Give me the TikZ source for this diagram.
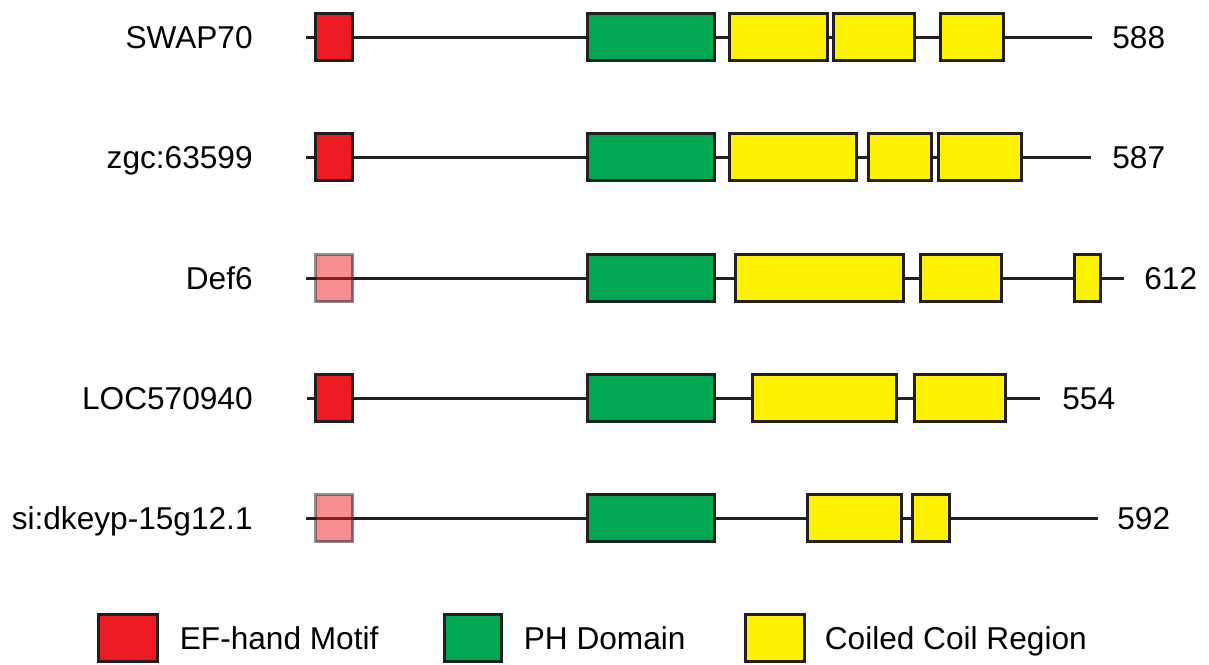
\documentclass[tikz,border=0pt]{standalone}
\usepackage{fontspec}
\setmainfont{Liberation Sans}
\usetikzlibrary{positioning}

\definecolor{efred}{HTML}{ED1C24}
\definecolor{phgreen}{HTML}{00A651}
\definecolor{ccyellow}{HTML}{FFF200}
\definecolor{outline}{HTML}{231F20}

\tikzset{
  dombox/.style={rectangle, draw=outline, line width=1.7pt, minimum height=0.94cm,
    inner sep=0pt, outer sep=0pt},
  efbox/.style={dombox, fill=efred},
  efweak/.style={dombox, fill=efred, opacity=0.5},
  phbox/.style={dombox, fill=phgreen},
  ccbox/.style={dombox, fill=ccyellow},
  backbone/.style={draw=outline, line width=1.7pt},
  lbl/.style={inner sep=0pt, font=\fontsize{18}{20}\selectfont,
    text height=0.44cm, text depth=0pt}
}

\begin{document}
\begin{tikzpicture}[x=0.02cm, y=-0.02cm]
    % box from left edge to right edge (pixels) on a row
    \newcommand{\domain}[5]{
        \pgfmathsetmacro{\domw}{(#4-#3-3)*0.02}
        \node[#2, minimum width=\domw cm] (#1) at ({(#3+#4)/2},#5) {};
    }
    % name, label, row, line start, line end, length label x, length
    \newcommand{\protein}[7]{
        \coordinate (#1s) at (#4,#3);
        \coordinate (#1e) at (#5,#3);
        \draw[backbone] (#1s) -- (#1e);
        \node[lbl, anchor=east] (#1name) at (253,#3) {#2};
        \node[lbl, anchor=west] (#1len) at (#6,#3) {#7};
    }
\useasboundingbox (0,0) rectangle (1209,664);

\protein{swap}{SWAP70}{37}{306}{1092}{1112}{588}
\domain{swapef}{efbox}{314}{354}{37}
\domain{swapph}{phbox}{586}{716}{37}
\domain{swapcc1}{ccbox}{728}{829}{37}
\domain{swapcc2}{ccbox}{832}{916}{37}
\domain{swapcc3}{ccbox}{939}{1005}{37}

\protein{zgc}{zgc:63599}{157}{306}{1091}{1112}{587}
\domain{zgcef}{efbox}{314}{354}{157}
\domain{zgcph}{phbox}{586}{716}{157}
\domain{zgccc1}{ccbox}{728}{858}{157}
\domain{zgccc2}{ccbox}{867}{933}{157}
\domain{zgccc3}{ccbox}{937}{1023}{157}

\protein{def}{Def6}{278}{306}{1124}{1144}{612}
\domain{defef}{efweak}{314}{354}{278}
\domain{defph}{phbox}{586}{716}{278}
\domain{defcc1}{ccbox}{734}{905}{278}
\domain{defcc2}{ccbox}{919}{1003}{278}
\domain{defcc3}{ccbox}{1073}{1102}{278}

\protein{loc}{LOC570940}{398}{307}{1040}{1062}{554}
\domain{locef}{efbox}{314}{354}{398}
\domain{locph}{phbox}{586}{716}{398}
\domain{loccc1}{ccbox}{751}{898}{398}
\domain{loccc2}{ccbox}{913}{1007}{398}

\protein{si}{si:dkeyp-15g12.1}{518}{306}{1098}{1117}{592}
\domain{sief}{efweak}{314}{354}{518}
\domain{siph}{phbox}{586}{716}{518}
\domain{sicc1}{ccbox}{806}{903}{518}
\domain{sicc2}{ccbox}{911}{951}{518}

% legend
\domain{keyef}{efbox}{97}{159}{638}
\domain{keyph}{phbox}{443}{503}{638}
\domain{keycc}{ccbox}{744}{806}{638}
\node[lbl, anchor=west, right=0.44cm of keyef] (keyeftext) {EF-hand Motif};
\node[lbl, anchor=west, right=0.44cm of keyph] (keyphtext) {PH Domain};
\node[lbl, anchor=west, right=0.40cm of keycc] (keycctext) {Coiled Coil Region};

\end{tikzpicture}
\end{document}
